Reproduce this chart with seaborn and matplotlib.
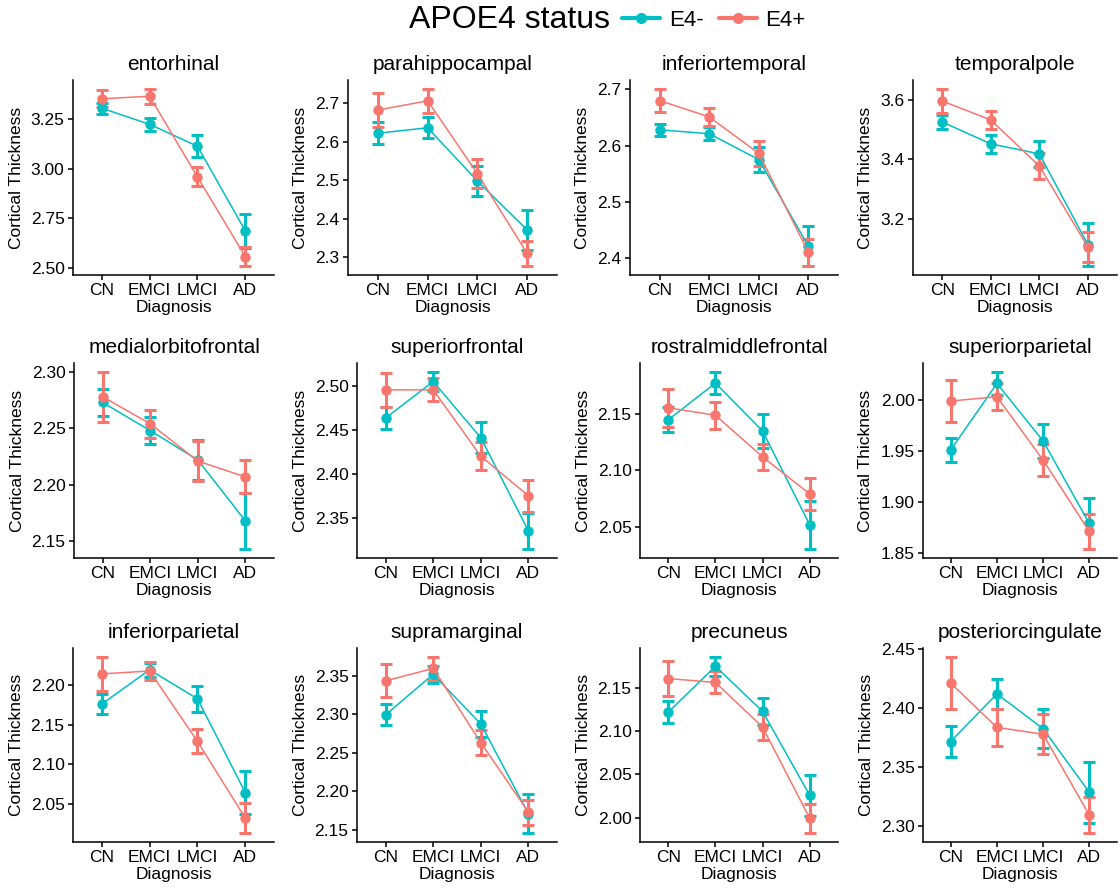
import numpy as np
import pandas as pd
import matplotlib
matplotlib.use("Agg")
import matplotlib.pyplot as plt
from matplotlib.lines import Line2D
import seaborn as sns

# ---------------- data ----------------
regions = ["entorhinal", "parahippocampal", "inferiortemporal", "temporalpole",
           "medialorbitofrontal", "superiorfrontal", "rostralmiddlefrontal", "superiorparietal",
           "inferiorparietal", "supramarginal", "precuneus", "posteriorcingulate"]
diagnosis = ["CN", "EMCI", "LMCI", "AD"]
status_levels = ["E4-", "E4+"]

e4neg_mean = [
    [3.303, 3.222, 3.112, 2.687],
    [2.622, 2.636, 2.498, 2.371],
    [2.628, 2.621, 2.575, 2.421],
    [3.527, 3.453, 3.419, 3.112],
    [2.273, 2.248, 2.222, 2.168],
    [2.4635, 2.505, 2.441, 2.335],
    [2.145, 2.1776, 2.135, 2.0515],
    [1.951, 2.0163, 1.9598, 1.8787],
    [2.1758, 2.219, 2.1825, 2.0646],
    [2.2991, 2.3517, 2.2871, 2.1706],
    [2.1219, 2.1747, 2.1227, 2.0258],
    [2.3716, 2.4119, 2.3824, 2.3287],
]
e4neg_se = [
    [0.027, 0.033, 0.054, 0.085],
    [0.028, 0.027, 0.039, 0.052],
    [0.011, 0.012, 0.022, 0.036],
    [0.024, 0.030, 0.045, 0.073],
    [0.0117, 0.0117, 0.018, 0.025],
    [0.013, 0.011, 0.0177, 0.0207],
    [0.011, 0.010, 0.015, 0.0216],
    [0.0122, 0.0114, 0.0163, 0.0246],
    [0.0125, 0.009, 0.0167, 0.027],
    [0.0137, 0.0114, 0.0172, 0.0253],
    [0.0125, 0.011, 0.016, 0.0237],
    [0.013, 0.0125, 0.0165, 0.026],
]
e4pos_mean = [
    [3.350, 3.363, 2.958, 2.558],
    [2.682, 2.706, 2.517, 2.310],
    [2.680, 2.651, 2.586, 2.410],
    [3.598, 3.534, 3.378, 3.104],
    [2.278, 2.254, 2.221, 2.207],
    [2.4955, 2.4955, 2.420, 2.375],
    [2.1556, 2.149, 2.112, 2.079],
    [1.999, 2.0033, 1.941, 1.8709],
    [2.2138, 2.2175, 2.129, 2.0325],
    [2.3431, 2.3594, 2.2629, 2.1727],
    [2.1606, 2.1561, 2.1046, 1.9992],
    [2.421, 2.3835, 2.3778, 2.3094],
]
e4pos_se = [
    [0.042, 0.037, 0.048, 0.048],
    [0.043, 0.031, 0.037, 0.033],
    [0.021, 0.016, 0.022, 0.024],
    [0.041, 0.030, 0.045, 0.050],
    [0.022, 0.0125, 0.018, 0.0147],
    [0.0195, 0.013, 0.016, 0.018],
    [0.0168, 0.0118, 0.0118, 0.0146],
    [0.021, 0.013, 0.0157, 0.0174],
    [0.0215, 0.0115, 0.015, 0.019],
    [0.0215, 0.015, 0.0165, 0.0163],
    [0.0197, 0.0127, 0.0152, 0.0171],
    [0.0222, 0.0155, 0.017, 0.0153],
]
ytick_labels = [
    ["2.50", "2.75", "3.00", "3.25"],
    ["2.3", "2.4", "2.5", "2.6", "2.7"],
    ["2.4", "2.5", "2.6", "2.7"],
    ["3.2", "3.4", "3.6"],
    ["2.15", "2.20", "2.25", "2.30"],
    ["2.35", "2.40", "2.45", "2.50"],
    ["2.05", "2.10", "2.15"],
    ["1.85", "1.90", "1.95", "2.00"],
    ["2.05", "2.10", "2.15", "2.20"],
    ["2.15", "2.20", "2.25", "2.30", "2.35"],
    ["2.00", "2.05", "2.10", "2.15"],
    ["2.30", "2.35", "2.40", "2.45"],
]

palette = {"E4-": "#00BFC4", "E4+": "#F8766D"}

# ---------------- style ----------------
sns.set_theme(style="ticks")
plt.rcParams["font.family"] = ["Liberation Sans", "DejaVu Sans"]
plt.rcParams["text.color"] = "black"
plt.rcParams["axes.labelcolor"] = "black"
plt.rcParams["xtick.color"] = "black"
plt.rcParams["ytick.color"] = "black"

W, H = 1120, 888
fig = plt.figure(figsize=(W / 100, H / 100), dpi=100)

lefts = [73, 348, 630, 913, 74, 357, 640, 923, 73, 357, 640, 923]
right_off = [274, 277, 278, 277]
tops = [80, 363, 648]
bottoms = [275, 558, 842]

for i, region in enumerate(regions):
    row, col = divmod(i, 4)
    l = lefts[i]
    r = col * 280 + right_off[col]
    t, b = tops[row], bottoms[row]
    ax = fig.add_axes([l / W, 1 - b / H, (r - l) / W, (b - t) / H])

    df = pd.DataFrame({
        "Diagnosis": diagnosis * 2,
        "thickness": e4neg_mean[i] + e4pos_mean[i],
        "se": e4neg_se[i] + e4pos_se[i],
        "APOE4": ["E4-"] * 4 + ["E4+"] * 4,
    })

    sns.pointplot(data=df, x="Diagnosis", y="thickness", hue="APOE4",
                  order=diagnosis, hue_order=status_levels, palette=palette,
                  errorbar=None, markers="o", linestyles="-",
                  linewidth=1.1, markersize=6.5, markeredgewidth=1,
                  legend=False, ax=ax)

    xpos = np.arange(len(diagnosis))
    for s in status_levels:
        sub = df[df["APOE4"] == s]
        ax.errorbar(xpos, sub["thickness"].values, yerr=sub["se"].values,
                    fmt="none", ecolor=palette[s], elinewidth=2.2,
                    capsize=4.6, capthick=2.2, zorder=1.5)

    lo = (df["thickness"] - df["se"]).min()
    hi = (df["thickness"] + df["se"]).max()
    pad = 0.05 * (hi - lo)
    ax.set_ylim(lo - pad, hi + pad)
    ax.set_xlim(-0.6, 3.6)
    ax.set_yticks([float(v) for v in ytick_labels[i]])
    ax.set_yticklabels(ytick_labels[i])

    ax.set_title(region, fontsize=15, pad=7)
    ax.set_xlabel("Diagnosis", fontsize=12.5, labelpad=1)
    ax.set_ylabel("Cortical Thickness", fontsize=12.5, labelpad=5)
    ax.tick_params(axis="both", labelsize=12.5, length=3.6, width=1.1, pad=2.5)
    sns.despine(ax=ax)
    for sp in ["left", "bottom"]:
        ax.spines[sp].set_linewidth(1.1)
        ax.spines[sp].set_color("black")

# ---------------- legend ----------------
fig.text(610 / W, 1 - 20 / H, "APOE4 status", ha="right", va="center", fontsize=23)
handles = [Line2D([0], [0], color=palette[s], lw=3, marker="o", ms=7) for s in status_levels]
fig.legend(handles, status_levels, loc="center left", bbox_to_anchor=(622 / W, 1 - 20 / H),
           ncol=2, frameon=False, fontsize=16, handlelength=1.7, handletextpad=0.4,
           columnspacing=0.7, borderaxespad=0, borderpad=0)

fig.savefig("out.png", dpi=100)
